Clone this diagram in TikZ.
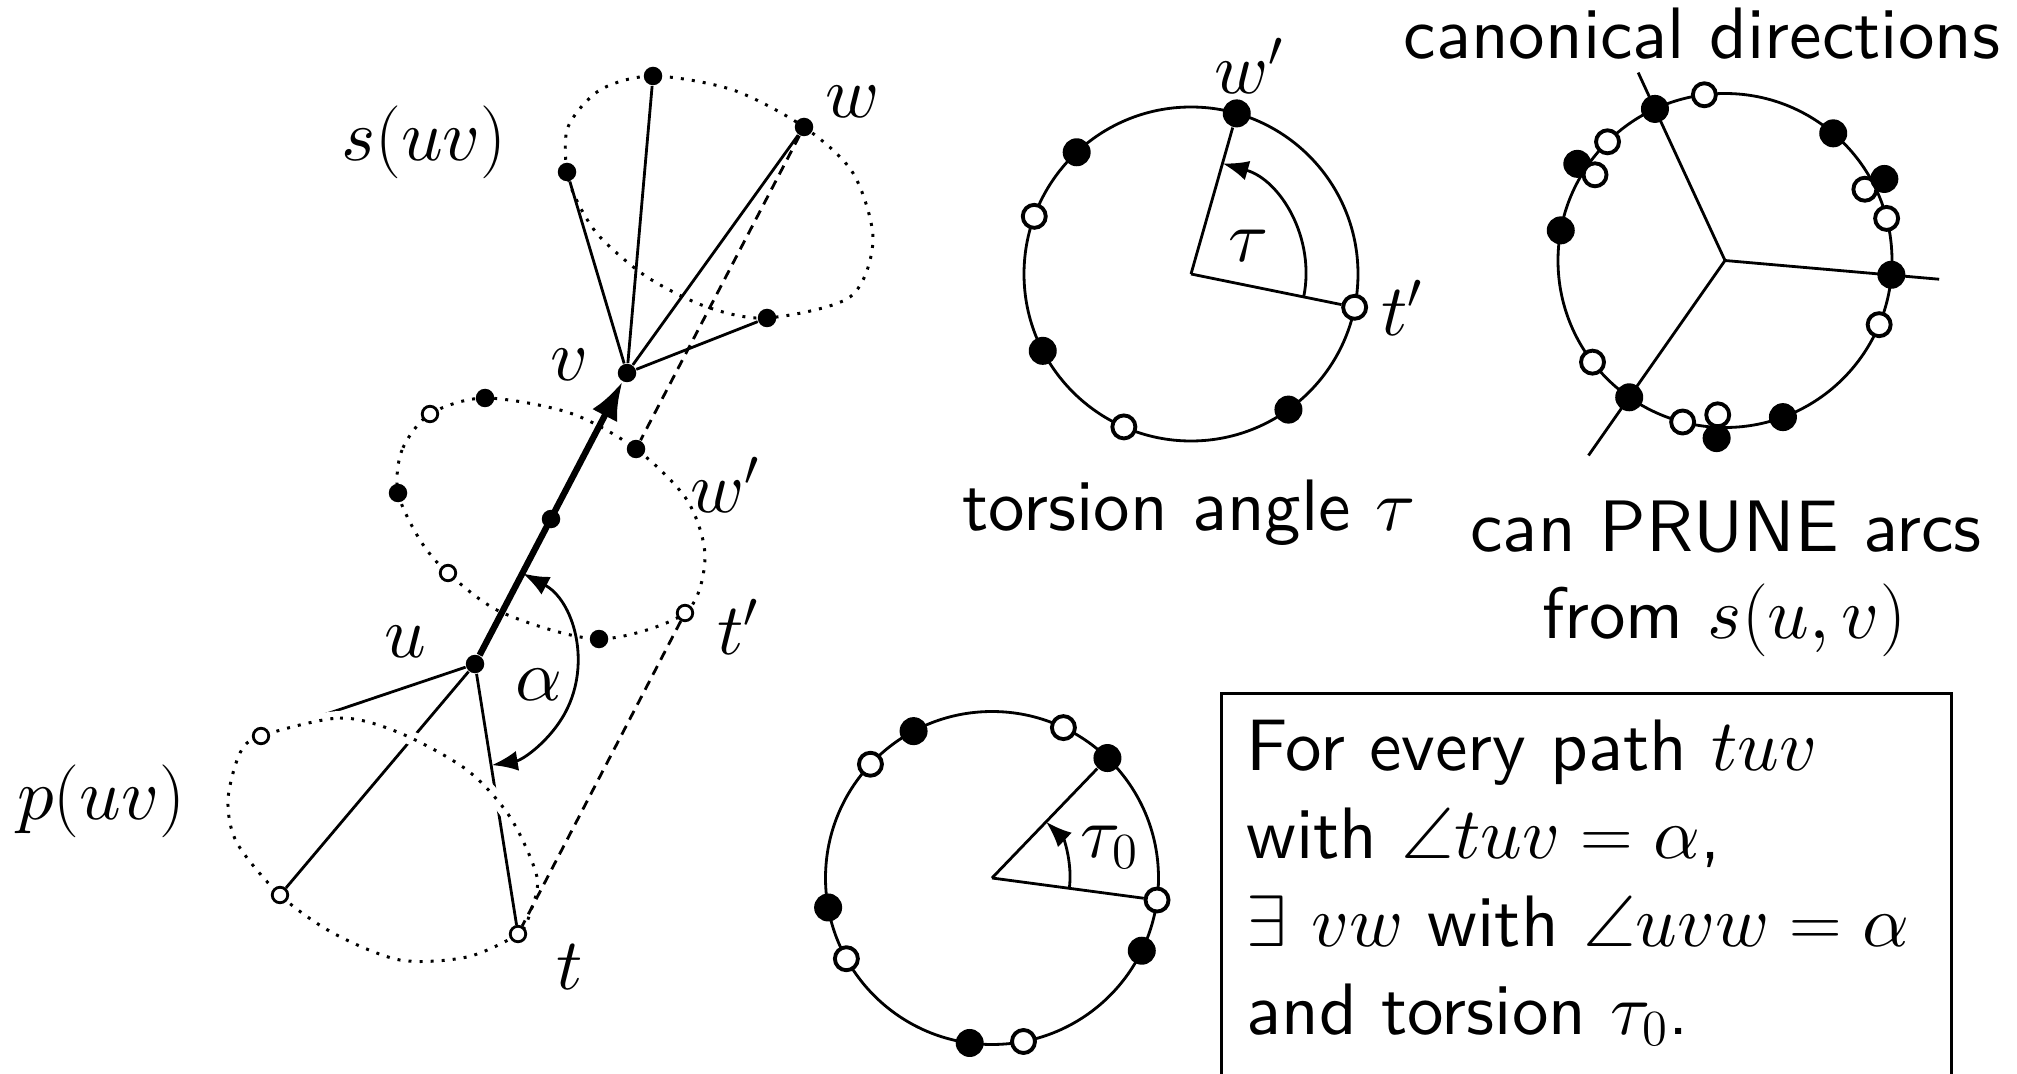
\documentclass[tikz,border=0pt]{standalone}
\usepackage{amsmath,amssymb}
\usepackage{fontspec}
\setsansfont{lmsans10-regular.otf}
\DeclareFontShape{OML}{cmm}{m}{it}{<->cmmi10}{}
\usetikzlibrary{arrows.meta,backgrounds}

\begin{document}
\begin{tikzpicture}[
  fdot/.style={circle, fill, inner sep=0pt, minimum size=1.85mm},
  odot/.style={circle, draw, fill=white, line width=0.8pt, inner sep=0pt, minimum size=1.55mm},
  fbig/.style={circle, fill, inner sep=0pt, minimum size=2.8mm},
  obig/.style={circle, draw, fill=white, line width=1.1pt, inner sep=0pt, minimum size=2.3mm},
  edge/.style={line width=0.8pt},
  bond/.style={line width=1.8pt, -{Latex[length=3.8mm,width=2.8mm]}},
  orbit/.style={line width=0.85pt, dash pattern=on 0.85pt off 2.3pt},
  front/.style={preaction={draw=white, line width=4pt, solid}},
  proj/.style={line width=0.8pt, dash pattern=on 2.8pt off 2pt},
  turn/.style={line width=0.8pt, -{Latex[length=2.6mm,width=2mm]}},
  bothturn/.style={line width=0.8pt, {Latex[length=2.6mm,width=2mm]}-{Latex[length=2.6mm,width=2mm]}},
  lbl/.style={font=\huge},
  caption/.style={font=\huge\sffamily, anchor=base},
  rulebox/.style={draw, line width=0.8pt, anchor=north west, font=\huge\sffamily, align=left,
    text width=6.8cm, inner xsep=2.5mm, inner ysep=2.7mm, text depth=3.5cm}
]
\useasboundingbox (0,0) rectangle (20.17,-10.74);

% bond uv and its two cones
\node[fdot] (v) at (6.27,-3.73) {};
\node[fdot] (u) at (4.75,-6.64) {};
\node[fdot] (mid) at (5.51,-5.19) {};
\node[fdot] (w) at (8.04,-1.27) {};
\node[fdot] (s1) at (6.53,-0.76) {};
\node[fdot] (s2) at (5.67,-1.72) {};
\node[fdot] (s3) at (7.67,-3.18) {};
\node[odot] (m1) at (4.30,-4.14) {};
\node[fdot] (m2) at (4.85,-3.98) {};
\node[fdot] (wp) at (6.36,-4.49) {};
\node[fdot] (m4) at (3.98,-4.93) {};
\node[odot] (m5) at (4.48,-5.73) {};
\node[fdot] (m6) at (5.99,-6.39) {};
\node[odot] (tp) at (6.85,-6.13) {};
\node[odot] (p1) at (2.61,-7.36) {};
\node[odot] (p2) at (2.80,-8.95) {};
\node[odot] (t) at (5.18,-9.34) {};

\begin{scope}[on background layer]
\draw[orbit] plot[smooth cycle] coordinates {(s2.center) (5.68,-1.27) (6.00,-0.90) (s1.center) (7.33,-0.90) (w.center) (8.53,-1.73) (8.73,-2.40) (8.50,-2.97) (s3.center) (7.07,-3.07) (6.47,-2.77) (6.00,-2.37) (5.78,-2.03)};
\draw[orbit] plot[smooth cycle] coordinates {(m1.center) (4.02,-4.50) (m4.center) (4.20,-5.40) (m5.center) (5.03,-6.13) (m6.center) (tp.center) (7.05,-5.57) (6.87,-5.00) (wp.center) (5.70,-4.13) (m2.center)};
\draw[edge] (v) -- (s1);
\draw[edge] (v) -- (s2);
\draw[edge] (v) -- (s3);
\draw[edge] (v) -- (w);
\draw[edge] (u) -- (p1);
\draw[edge] (u) -- (p2);
\draw[edge] (u) -- (t);
\draw[orbit, front] plot[smooth cycle] coordinates {(p1.center) (3.40,-7.18) (4.00,-7.33) (4.67,-7.70) (5.10,-8.17) (5.37,-8.77) (5.30,-9.13) (t.center) (4.67,-9.57) (4.00,-9.60) (3.33,-9.33) (p2.center) (2.37,-8.43) (2.28,-8.00) (2.40,-7.53)};
\draw[proj] (w) -- (wp);
\draw[proj] (tp) -- (t);
\draw[bond] (u) -- (v);
\end{scope}
\draw[bothturn] ([shift={(62:1.025)}]u.center) arc[start angle=62, end angle=-80.6, radius=1.025];

\node[lbl] (slab) at (4.24,-1.42) {$s(uv)$};
\node[lbl] (wlab) at (8.53,-1.02) {$w$};
\node[lbl] (vlab) at (5.69,-3.65) {$v$};
\node[lbl] (wplab) at (7.25,-4.85) {$w'$};
\node[lbl] (tplab) at (7.38,-6.27) {$t'$};
\node[lbl] (ulab) at (4.05,-6.42) {$u$};
\node[lbl] (alab) at (5.39,-6.85) {$\alpha$};
\node[lbl] (tlab) at (5.70,-9.67) {$t$};
\node[lbl] (plab) at (1.01,-8.01) {$p(uv)$};

% torsion angle
\coordinate (tc) at (11.91,-2.74);
\foreach \a/\k [count=\i] in {74.1/fbig, 133.2/fbig, 159.8/obig, 207.4/fbig, 246.3/obig, 305.7/fbig, 348.5/obig}
  \node[\k] (tor\i) at ([shift={(\a:1.67)}]tc) {};
\begin{scope}[on background layer]
\draw[edge] (tc) circle[radius=1.67];
\draw[edge] (tc) -- (tor1);
\draw[edge] (tc) -- (tor7);
\end{scope}
\draw[turn] ([shift={(-11.5:1.15)}]tc) arc[start angle=-11.5, end angle=74.1, radius=1.15];
\node[lbl] (taulab) at (12.49,-2.46) {$\tau$};
\node[lbl] (wtop) at (12.49,-0.66) {$w'$};
\node[lbl] (ttop) at (14.02,-3.08) {$t'$};
\node[caption] (torsion) at (11.89,-5.30) {torsion angle $\tau$};

% canonical directions
\coordinate (cc) at (17.25,-2.605);
\coordinate (dirA) at ([shift={(114.8:2.07)}]cc);
\coordinate (dirB) at ([shift={(-5:2.15)}]cc);
\coordinate (dirC) at ([shift={(235:2.38)}]cc);
\foreach \a/\r/\k [count=\i] in {114.8/1.67/fbig, 97.1/1.67/obig, 49.6/1.67/fbig, 134.7/1.67/obig,
    146.8/1.765/fbig, 146.6/1.557/obig, 169.6/1.67/fbig, 27/1.57/obig, 27.1/1.79/fbig,
    14.6/1.67/obig, -4.9/1.67/fbig, -22.6/1.67/obig, -69.7/1.67/fbig, 267.3/1.545/obig,
    267.3/1.778/fbig, 255.3/1.67/obig, 235/1.67/fbig, 217.5/1.67/obig}
  \node[\k] (can\i) at ([shift={(\a:\r)}]cc) {};
\begin{scope}[on background layer]
\draw[edge] (cc) circle[radius=1.67];
\draw[edge] (cc) -- (dirA);
\draw[edge] (cc) -- (dirB);
\draw[edge] (cc) -- (dirC);
\end{scope}
\node[caption] (canon) at (17.02,-0.59) {canonical directions};
\node[caption] (prune) at (17.26,-5.51) {can PRUNE arcs};
\node[caption] (prunefrom) at (17.24,-6.38) {from $s(u,v)$};

% torsion tau_0
\coordinate (bc) at (9.92,-8.78);
\foreach \a/\k [count=\i] in {118.1/fbig, 64.6/obig, 46.1/fbig, 136.9/obig, 190.2/fbig,
    209/obig, 262.3/fbig, 280.9/obig, 334.1/fbig, 352.4/obig}
  \node[\k] (bot\i) at ([shift={(\a:1.665)}]bc) {};
\begin{scope}[on background layer]
\draw[edge] (bc) circle[radius=1.665];
\draw[edge] (bc) -- (bot3);
\draw[edge] (bc) -- (bot10);
\end{scope}
\draw[turn] ([shift={(-7.6:0.78)}]bc) arc[start angle=-7.6, end angle=46.1, radius=0.78];
\node[lbl] (tau0lab) at (11.10,-8.47) {$\tau_0$};

\node[rulebox] (rule) at (12.20,-6.92) {For every path $tuv$\\with $\angle tuv=\alpha$,\\$\exists$ $vw$ with $\angle uvw=\alpha$\\and torsion $\tau_0$.};
\end{tikzpicture}
\end{document}
